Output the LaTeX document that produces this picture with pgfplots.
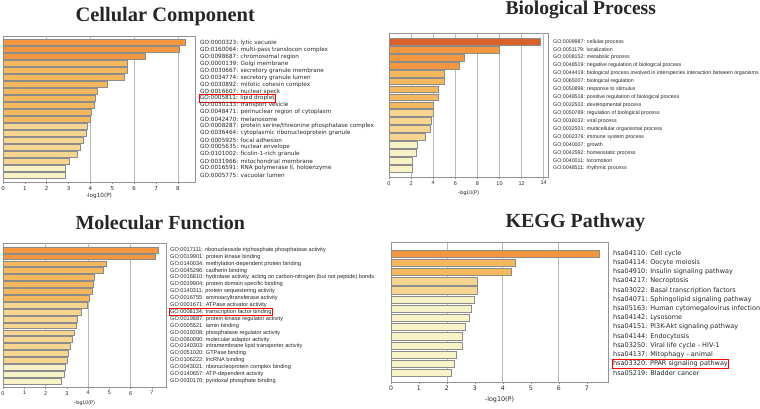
\documentclass[border=0pt]{standalone}
\usepackage{pgfplots}
\pgfplotsset{compat=1.18}
\usepackage{fontspec}
\setmainfont{Liberation Serif}
\newfontfamily\dv{DejaVu Sans}
\newfontfamily\ls{Liberation Sans}
\definecolor{cDark}{HTML}{D9622B}
\definecolor{cOrange}{HTML}{F39640}
\definecolor{cAmber}{HTML}{F5B85C}
\definecolor{cLight}{HTML}{F6D590}
\definecolor{cPale}{HTML}{F8F3C6}
\definecolor{edge}{HTML}{8C8C8C}
\setlength{\fboxsep}{0.6pt}
\setlength{\fboxrule}{0.7pt}
\pgfplotsset{
  panel/.style={
    anchor=north west, scale only axis,
    y dir=reverse,
    /pgf/number format/assume math mode=true,
    axis line style={draw=gray!85, line width=0.6pt},
    tick align=outside, xtick pos=bottom, major tick length=2pt,
    x tick style={draw=gray!85, line width=0.5pt},
    ytick style={draw=none},
    yticklabel pos=right,
    yticklabel style={anchor=west, inner sep=0pt, xshift=3pt, text=black!85},
    xticklabel style={anchor=north, inner sep=0pt, yshift=-2pt, text=black!85},
    xlabel={-log10(P)},
    xlabel style={at={(axis description cs:0.5,0)}, anchor=center, text=black!85},
    extra x tick labels={},
    extra x tick style={grid=major, major tick length=0pt},
    grid style={draw=gray!55, line width=0.8pt},
  },
  bars/.style={xbar, bar shift=0pt, bar width=#1, draw=edge, line width=0.5pt},
}
\begin{document}
\begin{tikzpicture}
\path[use as bounding box] (0pt,0pt) rectangle (760pt,408pt);
\node[anchor=base west, font=\fontsize{20.5}{22}\selectfont\bfseries, text=black!85] at (72pt,386pt) {Cellular Component};
\node[anchor=base west, font=\fontsize{19.6}{22}\selectfont\bfseries, text=black!85] at (502pt,393pt) {Biological Process};
\node[anchor=base west, font=\fontsize{20}{22}\selectfont\bfseries, text=black!85] at (72pt,179pt) {Molecular Function};
\node[anchor=base west, font=\fontsize{20}{22}\selectfont\bfseries, text=black!85] at (502pt,180.5pt) {KEGG Pathway};

% Cellular Component
\begin{axis}[panel,
  at={(3pt,372pt)}, width=192pt, height=146pt,
  xmin=0, xmax=8.78, ymin=-0.96, ymax=20.0,
  xtick={0,...,8}, extra x ticks={2,4,6,8},
  ticklabel style={font=\dv\fontsize{5.5}{6}\selectfont},
  yticklabel style={font=\dv\fontsize{5.7}{6}\selectfont},
  xlabel style={font=\dv\fontsize{5.7}{6}\selectfont, yshift=-14pt},
  ytick={0,...,19},
  yticklabels={
    GO:0000323: lytic vacuole,
    GO:0160064: multi-pass translocon complex,
    GO:0098687: chromosomal region,
    GO:0000139: Golgi membrane,
    GO:0030667: secretory granule membrane,
    GO:0034774: secretory granule lumen,
    GO:0030892: mitotic cohesin complex,
    GO:0016607: nuclear speck,
    {\kern-1.5pt\fcolorbox{red}{white}{GO:0005811: lipid droplet}},
    GO:0030133: transport vesicle,
    GO:0048471: perinuclear region of cytoplasm,
    GO:0042470: melanosome,
    GO:0008287: protein serine/threonine phosphatase complex,
    GO:0036464: cytoplasmic ribonucleoprotein granule,
    GO:0005925: focal adhesion,
    GO:0005635: nuclear envelope,
    GO:0101002: ficolin-1-rich granule,
    GO:0031966: mitochondrial membrane,
    {GO:0016591: RNA polymerase II, holoenzyme},
    GO:0005775: vacuolar lumen},
]
\addplot[bars=0.85, fill=cOrange] coordinates {(8.34,0) (8.05,1) (6.49,2)};
\addplot[bars=0.85, fill=cAmber] coordinates {(5.67,3) (5.67,4) (5.55,5) (4.77,6) (4.30,7) (4.22,8) (4.16,9) (4.05,10) (4.00,11)};
\addplot[bars=0.85, fill=cLight] coordinates {(3.87,12) (3.80,13) (3.67,14) (3.52,15) (3.40,16) (3.02,17)};
\addplot[bars=0.85, fill=cPale] coordinates {(2.84,18) (2.84,19)};
\end{axis}

% Biological Process
\begin{axis}[panel,
  at={(389pt,375pt)}, width=159pt, height=144pt,
  xmin=0, xmax=14.39, ymin=-1.1, ymax=17.06,
  xtick={0,2,...,14}, extra x ticks={2,4,...,14},
  ticklabel style={font=\ls\fontsize{5.5}{6}\selectfont},
  yticklabel style={font=\ls\fontsize{5.3}{6}\selectfont},
  xlabel style={font=\ls\fontsize{5.2}{6}\selectfont, yshift=-16pt},
  ytick={0,...,16},
  yticklabels={
    GO:0009987: cellular process,
    GO:0051179: localization,
    GO:0008152: metabolic process,
    GO:0048519: negative regulation of biological process,
    GO:0044419: biological process involved in interspecies interaction between organisms,
    GO:0065007: biological regulation,
    GO:0050896: response to stimulus,
    GO:0048518: positive regulation of biological process,
    GO:0032502: developmental process,
    GO:0050789: regulation of biological process,
    GO:0016032: viral process,
    GO:0032501: multicellular organismal process,
    GO:0002376: immune system process,
    GO:0040007: growth,
    GO:0042592: homeostatic process,
    GO:0040011: locomotion,
    GO:0048511: rhythmic process},
]
\addplot[bars=0.85, fill=cDark] coordinates {(13.73,0)};
\addplot[bars=0.85, fill=cOrange] coordinates {(9.99,1) (6.85,2) (6.40,3)};
\addplot[bars=0.85, fill=cAmber] coordinates {(4.98,4) (4.98,5) (4.47,6) (4.47,7) (4.04,8)};
\addplot[bars=0.85, fill=cLight] coordinates {(3.98,9) (3.80,10) (3.77,11) (3.32,12)};
\addplot[bars=0.85, fill=cPale] coordinates {(2.56,13) (2.47,14) (2.11,15) (2.08,16)};
\end{axis}

% Molecular Function
\begin{axis}[panel,
  at={(3pt,165pt)}, width=163pt, height=144pt,
  xmin=0, xmax=7.66, ymin=-1.0, ymax=19.87,
  xtick={0,...,7}, extra x ticks={2,4,6},
  ticklabel style={font=\ls\fontsize{5.5}{6}\selectfont},
  yticklabel style={font=\ls\fontsize{5.6}{6}\selectfont, xshift=-1pt},
  xlabel style={font=\ls\fontsize{5.2}{6}\selectfont, yshift=-16pt},
  ytick={0,...,19},
  yticklabels={
    GO:0017111: ribonucleoside triphosphate phosphatase activity,
    GO:0019901: protein kinase binding,
    GO:0140034: methylation-dependent protein binding,
    GO:0045296: cadherin binding,
    {GO:0016810: hydrolase activity, acting on carbon-nitrogen (but not peptide) bonds},
    GO:0019904: protein domain specific binding,
    GO:0140311: protein sequestering activity,
    GO:0016755: aminoacyltransferase activity,
    GO:0001671: ATPase activator activity,
    {\kern-1.5pt\fcolorbox{red}{white}{GO:0008134: transcription factor binding}},
    GO:0019887: protein kinase regulator activity,
    GO:0005521: lamin binding,
    GO:0019208: phosphatase regulator activity,
    GO:0060090: molecular adaptor activity,
    GO:0140303: intramembrane lipid transporter activity,
    GO:0051020: GTPase binding,
    GO:0106222: lncRNA binding,
    GO:0043021: ribonucleoprotein complex binding,
    GO:0140657: ATP-dependent activity,
    GO:0030170: pyridoxal phosphate binding},
]
\addplot[bars=0.85, fill=cOrange] coordinates {(7.28,0) (7.17,1)};
\addplot[bars=0.85, fill=cAmber] coordinates {(4.87,2) (4.69,3) (4.30,4) (4.26,5) (4.19,6) (4.05,7)};
\addplot[bars=0.85, fill=cLight] coordinates {(3.94,8) (3.66,9) (3.47,10) (3.44,11) (3.33,12) (3.27,13) (3.18,14) (3.07,15) (3.00,16)};
\addplot[bars=0.85, fill=cPale] coordinates {(2.94,17) (2.90,18) (2.72,19)};
\end{axis}

% KEGG
\begin{axis}[panel,
  at={(391pt,165.5pt)}, width=217pt, height=139.5pt,
  xmin=0, xmax=7.76, ymin=-1.2, ymax=13.98,
  xtick={0,...,7}, extra x ticks={2,4,6},
  ticklabel style={font=\dv\fontsize{6.2}{7}\selectfont},
  yticklabel style={font=\dv\fontsize{6.5}{7}\selectfont},
  xlabel style={font=\dv\fontsize{6.4}{7}\selectfont, yshift=-18pt},
  ytick={0,...,13},
  yticklabels={
    hsa04110: Cell cycle,
    hsa04114: Oocyte meiosis,
    hsa04910: Insulin signaling pathway,
    hsa04217: Necroptosis,
    hsa03022: Basal transcription factors,
    hsa04071: Sphingolipid signaling pathway,
    hsa05163: Human cytomegalovirus infection,
    hsa04142: Lysosome,
    hsa04151: PI3K-Akt signaling pathway,
    hsa04144: Endocytosis,
    hsa03250: Viral life cycle - HIV-1,
    hsa04137: Mitophagy - animal,
    {\kern-1.5pt\fcolorbox{red}{white}{hsa03320: PPAR signaling pathway}},
    hsa05219: Bladder cancer},
]
\addplot[bars=0.8, fill=cOrange] coordinates {(7.43,0)};
\addplot[bars=0.8, fill=cAmber] coordinates {(4.45,1) (4.30,2)};
\addplot[bars=0.8, fill=cLight] coordinates {(3.09,3) (3.08,4)};
\addplot[bars=0.8, fill=cPale] coordinates {(2.99,5) (2.87,6) (2.80,7) (2.65,8) (2.56,9) (2.54,10) (2.34,11) (2.27,12) (2.17,13)};
\end{axis}
\end{tikzpicture}
\end{document}
